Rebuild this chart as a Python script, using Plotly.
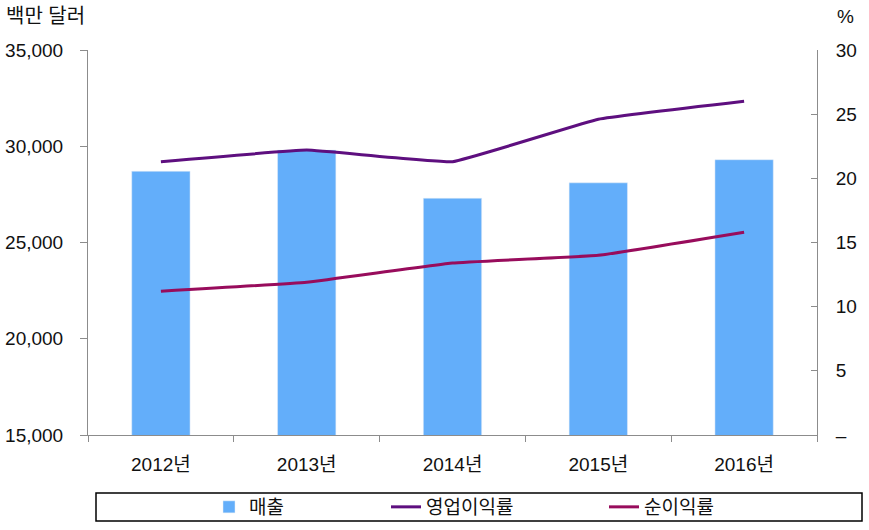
import plotly.graph_objects as go

years = ["2012년", "2013년", "2014년", "2015년", "2016년"]
sales = [28700, 29800, 27300, 28100, 29300]
op_margin = [21.3, 22.2, 21.3, 24.6, 26.0]
net_margin = [11.2, 11.9, 13.4, 14.0, 15.8]

left_ticks = [15000, 20000, 25000, 30000, 35000]
left_text = ["15,000", "20,000", "25,000", "30,000", "35,000"]
right_ticks = [0, 5, 10, 15, 20, 25, 30]
right_text = ["–", "5", "10", "15", "20", "25", "30"]

FONT = "Liberation Sans, Noto Sans CJK KR, sans-serif"
AX = "#8c8c8c"
PL, PR, PT, PB = 88, 817, 50, 435
PW, PH = PR - PL, PB - PT


def px(x):
    return (x - PL) / PW


def py(y):
    return (PB - y) / PH


fig = go.Figure()
fig.add_trace(go.Bar(x=years, y=sales, name="매출", marker_color="#63AEFA",
                     width=0.4, yaxis="y", legend="legend"))
fig.add_trace(go.Scatter(x=years, y=op_margin, name="영업이익률", mode="lines",
                         line=dict(color="#5E0F7F", width=3, shape="spline", smoothing=0.25),
                         yaxis="y2", legend="legend2"))
fig.add_trace(go.Scatter(x=years, y=net_margin, name="순이익률", mode="lines",
                         line=dict(color="#980C5C", width=3, shape="spline", smoothing=0.25),
                         yaxis="y2", legend="legend3"))

leg_common = dict(orientation="h", yanchor="middle", y=py(507), xanchor="left",
                  font=dict(size=19), bgcolor="rgba(0,0,0,0)", itemwidth=30)

fig.update_layout(
    width=869, height=530,
    margin=dict(l=PL, r=869 - PR, t=PT, b=530 - PB, autoexpand=False),
    plot_bgcolor="white", paper_bgcolor="white",
    font=dict(family=FONT, size=19, color="#111"),
    showlegend=True,
    xaxis=dict(type="category", showline=True, linecolor=AX, linewidth=1,
               ticks="outside", ticklen=6, tickcolor=AX, tickson="boundaries",
               showgrid=False, ticklabelstandoff=12,
               tickfont=dict(size=19)),
    yaxis=dict(range=[15000, 35000], tickvals=left_ticks, ticktext=left_text,
               showline=True, linecolor=AX, linewidth=1, ticks="outside",
               ticklen=7, tickcolor=AX, showgrid=False, zeroline=False,
               ticklabelstandoff=13, tickfont=dict(size=19)),
    yaxis2=dict(range=[0, 30], tickvals=right_ticks, ticktext=right_text,
                overlaying="y", side="right", showline=True, linecolor=AX,
                linewidth=1, ticks="inside", ticklen=6, tickcolor=AX,
                showgrid=False, zeroline=False, ticklabelstandoff=14,
                tickfont=dict(size=19)),
    legend=dict(leg_common, x=px(209)),
    legend2=dict(leg_common, x=px(386)),
    legend3=dict(leg_common, x=px(604)),
    annotations=[
        dict(text="백만 달러", x=0, xref="paper", xshift=-84, y=1, yref="paper",
             yshift=34, xanchor="left", yanchor="middle", showarrow=False,
             font=dict(size=20)),
        dict(text="%", x=1, xref="paper", xshift=28, y=1, yref="paper",
             yshift=34, xanchor="center", yanchor="middle", showarrow=False,
             font=dict(size=19)),
    ],
    shapes=[
        dict(type="rect", xref="paper", yref="paper",
             x0=px(96), x1=px(862), y0=py(521), y1=py(493),
             line=dict(color="black", width=1.5), fillcolor="rgba(0,0,0,0)"),
    ],
)

fig.write_html("out.html")
